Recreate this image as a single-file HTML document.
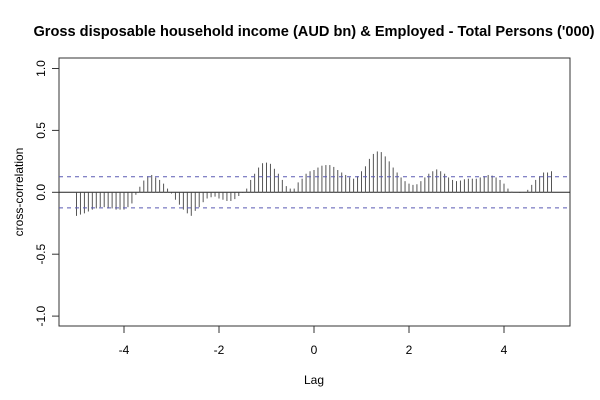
<!DOCTYPE html>
<html><head><meta charset="utf-8"><style>
body{margin:0;background:#fff}
svg{display:block;font-family:"Liberation Sans",Arial,sans-serif}
</style></head><body>
<svg id="chart" width="600" height="400">
<text x="314" y="36" text-anchor="middle" font-size="14.6" font-weight="bold">Gross disposable household income (AUD bn) &amp; Employed - Total Persons ('000)</text>
<rect x="59" y="58" width="511" height="268" fill="none" stroke="#333"/>
<g id="yticks"></g><g id="xticks"></g><g id="bars"></g>
<text transform="translate(23,192) rotate(-90)" text-anchor="middle" font-size="12">cross-correlation</text>
<text x="314" y="384" text-anchor="middle" font-size="12">Lag</text>
</svg>
<script>
const lagStart = -5;
const lagStep = 1/12;
const acfValues = [-0.19,-0.18,-0.17,-0.155,-0.14,-0.13,-0.12,-0.12,-0.13,-0.13,-0.14,-0.14,-0.14,-0.12,-0.09,-0.02,0.045,0.095,0.13,0.14,0.12,0.10,0.07,0.03,-0.01,-0.06,-0.10,-0.14,-0.17,-0.19,-0.15,-0.12,-0.08,-0.05,-0.04,-0.035,-0.05,-0.06,-0.07,-0.07,-0.055,-0.03,-0.005,0.03,0.10,0.15,0.20,0.235,0.24,0.23,0.19,0.15,0.10,0.05,0.03,0.03,0.08,0.11,0.15,0.17,
0.18,0.20,0.215,0.22,0.22,0.205,0.18,0.16,0.14,0.12,0.11,0.13,0.17,0.21,0.27,0.31,0.33,0.325,0.29,0.25,0.20,0.16,0.12,0.09,0.07,0.06,0.065,0.09,0.12,0.15,0.17,0.185,0.17,0.15,0.12,0.10,0.09,0.095,0.105,0.11,0.11,0.11,0.12,0.13,0.14,0.135,0.12,0.10,0.07,0.03,0.005,0,-0.005,-0.003,0.02,0.06,0.10,0.13,0.16,0.16,0.17];
const ciLevel = 0.126;
const yTickVals = [-1,-0.5,0,0.5,1];
const yTickLabels = ["-1.0","-0.5","0.0","0.5","1.0"];
const xTickVals = [-4,-2,0,2,4];
const xTickLabels = ["-4","-2","0","2","4"];
const NS="http://www.w3.org/2000/svg";
const sx = v => 314 + v*47.5;
const sy = v => 192.3 - v*123.8;
function mk(tag, attrs, parent){const e=document.createElementNS(NS,tag);for(const k in attrs)e.setAttribute(k,attrs[k]);parent.appendChild(e);return e;}
const yg=document.getElementById('yticks');
yTickVals.forEach((v,i)=>{
  const l=mk('line',{x1:52,x2:59,y1:sy(v),y2:sy(v),stroke:'#333'},yg);
  
  
  const t=mk('text',{transform:`translate(45,${sy(v)}) rotate(-90)`,'text-anchor':'middle','font-size':12},yg);
  t.textContent=yTickLabels[i];
  
  
});
const xg=document.getElementById('xticks');
xTickVals.forEach((v,i)=>{
  const l=mk('line',{x1:sx(v),x2:sx(v),y1:326,y2:333,stroke:'#333'},xg);
  
  
  const t=mk('text',{x:sx(v),y:354,'text-anchor':'middle','font-size':12},xg);
  t.textContent=xTickLabels[i];
  
  
});
const bg=document.getElementById('bars');
const z=mk('line',{x1:59,x2:570,y1:sy(0),y2:sy(0),stroke:'#222'},bg);


acfValues.forEach((v,i)=>{
  const x=sx(lagStart+i*lagStep);
  const b=mk('line',{x1:x,x2:x,y1:sy(0),y2:sy(v),stroke:'#555','stroke-width':1},bg);
  
  
});
[ciLevel,-ciLevel].forEach(c=>{
  const d=mk('line',{x1:59,x2:570,y1:sy(c),y2:sy(c),stroke:'#5a5ab4','stroke-dasharray':'4,4'},bg);
  
  
});
</script>
</body></html>
